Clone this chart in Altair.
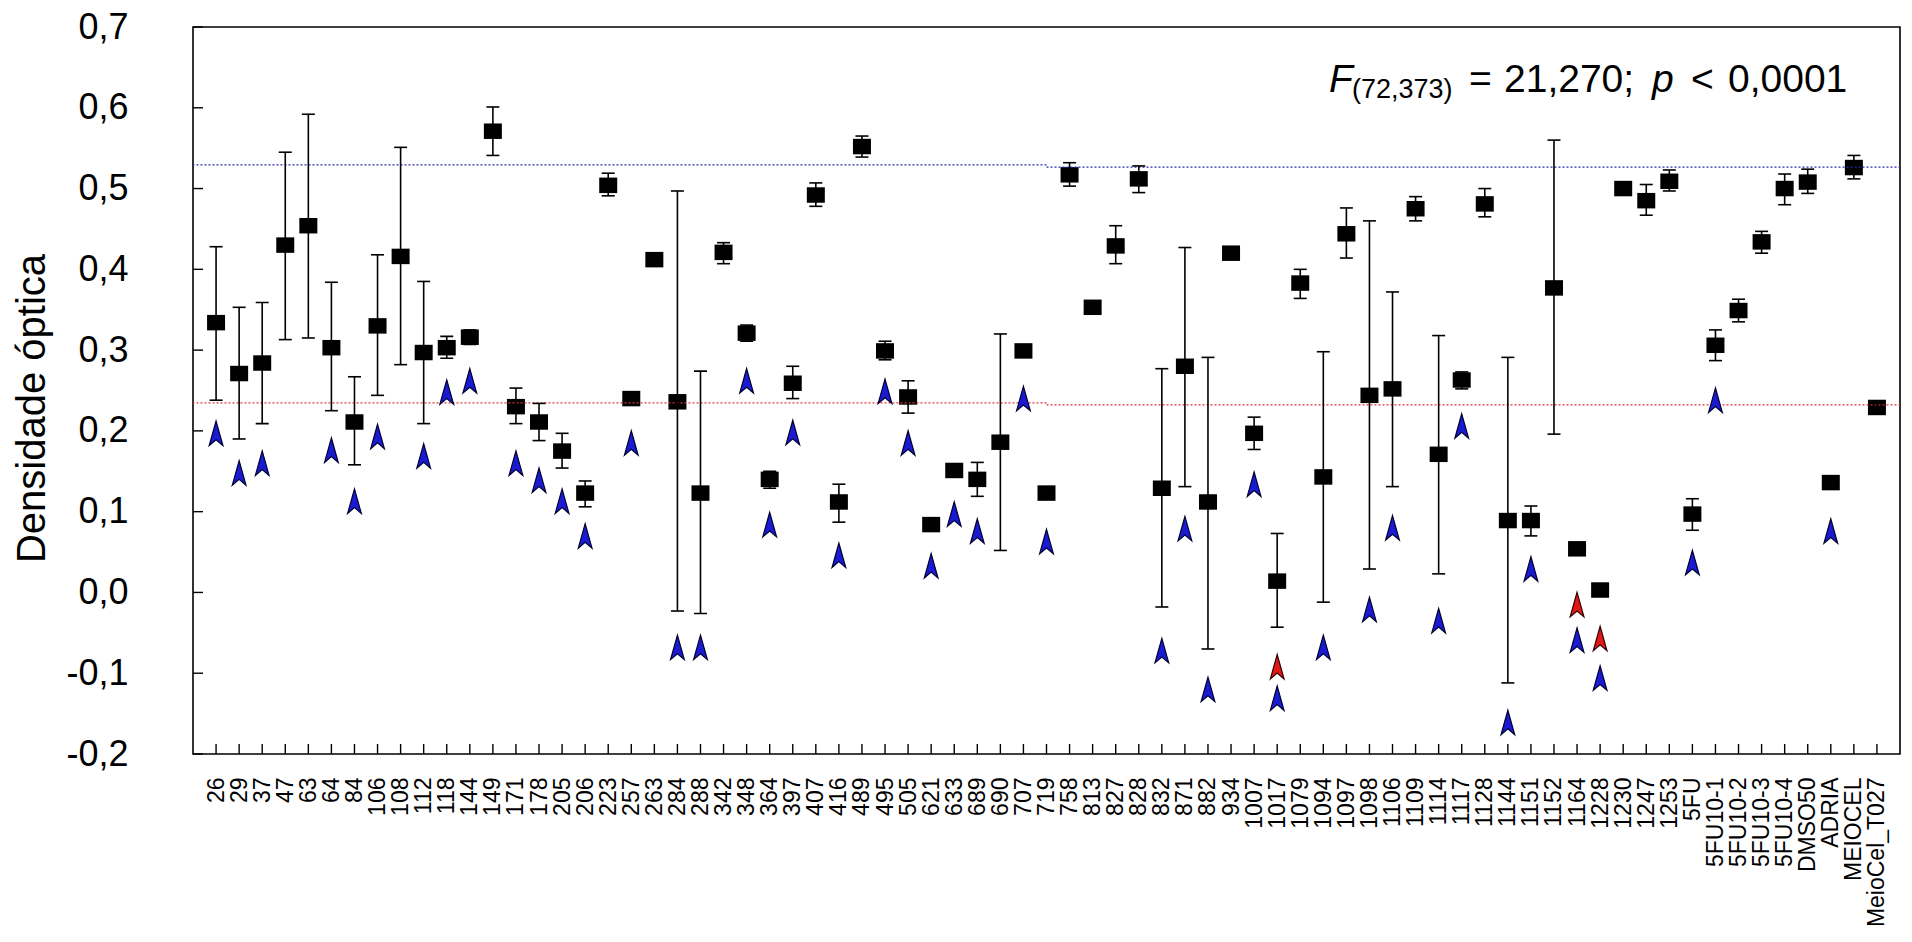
import altair as alt
import pandas as pd

# Samples along the x axis
categories = [
    "26", "29", "37", "47", "63", "64", "84", "106", "108", "112", "118", "144",
    "149", "171", "178", "205", "206", "223", "257", "263", "284", "288", "342",
    "348", "364", "397", "407", "416", "489", "495", "505", "621", "633", "689",
    "690", "707", "719", "758", "813", "827", "828", "832", "871", "882", "934",
    "1007", "1017", "1079", "1094", "1097", "1098", "1106", "1109", "1114",
    "1117", "1128", "1144", "1151", "1152", "1164", "1228", "1230", "1247",
    "1253", "5FU", "5FU10-1", "5FU10-2", "5FU10-3", "5FU10-4", "DMSO50",
    "ADRIA", "MEIOCEL", "MeioCel_T027",
]

# Mean optical density per sample
means = [
    0.334, 0.271, 0.284, 0.430, 0.454, 0.303, 0.211, 0.330, 0.416, 0.297, 0.303, 0.316,
    0.571, 0.230, 0.211, 0.175, 0.123, 0.504, 0.240, 0.412, 0.236, 0.123, 0.421,
    0.321, 0.140, 0.259, 0.492, 0.112, 0.552, 0.299, 0.242, 0.084, 0.151, 0.140,
    0.186, 0.299, 0.123, 0.517, 0.353, 0.429, 0.512, 0.129, 0.280, 0.112, 0.420,
    0.197, 0.014, 0.383, 0.143, 0.444, 0.244, 0.252, 0.475, 0.171,
    0.263, 0.481, 0.089, 0.089, 0.377, 0.054, 0.003, 0.500, 0.485,
    0.509, 0.097, 0.306, 0.349, 0.434, 0.500, 0.508,
    0.136, 0.526, 0.229,
]

# Lower and upper ends of the error bars (None: no bar)
err_low = [
    0.238, 0.190, 0.209, 0.313, 0.315, 0.225, 0.158, 0.244, 0.282, 0.209, 0.290, 0.307,
    0.541, 0.209, 0.188, 0.154, 0.106, 0.491, None, 0.407, -0.023, -0.026, 0.407,
    0.311, 0.129, 0.240, 0.478, 0.087, 0.539, 0.288, 0.222, None, None, 0.119,
    0.052, None, 0.118, 0.503, None, 0.407, 0.495, -0.018, 0.131, -0.070, None,
    0.177, -0.043, 0.364, -0.012, 0.414, 0.029, 0.131, 0.460, 0.023,
    0.252, 0.465, -0.112, 0.070, 0.196, 0.049, None, 0.495, 0.467,
    0.497, 0.077, 0.287, 0.335, 0.420, 0.480, 0.494,
    None, 0.512, 0.224,
]
err_high = [
    0.428, 0.353, 0.359, 0.545, 0.592, 0.384, 0.267, 0.418, 0.551, 0.385, 0.317, 0.325,
    0.601, 0.253, 0.234, 0.197, 0.138, 0.519, None, 0.417, 0.497, 0.274, 0.433,
    0.331, 0.150, 0.280, 0.507, 0.134, 0.565, 0.311, 0.262, None, None, 0.161,
    0.320, None, 0.128, 0.532, None, 0.454, 0.528, 0.277, 0.427, 0.291, None,
    0.217, 0.073, 0.400, 0.298, 0.476, 0.460, 0.372, 0.490, 0.318,
    0.273, 0.500, 0.291, 0.107, 0.560, 0.059, None, 0.505, 0.505,
    0.523, 0.116, 0.325, 0.363, 0.447, 0.518, 0.524,
    None, 0.541, 0.234,
]

# Blue and red arrow markers (None: no marker)
blue_marks = [
    0.197, 0.148, 0.160, None, None, 0.176, 0.113, 0.193, None, 0.169, 0.248, 0.262,
    None, 0.160, 0.139, 0.113, 0.070, None, 0.185, None, -0.068, -0.068, None,
    0.262, 0.084, 0.198, None, 0.046, None, 0.249, 0.185, 0.033, 0.097, 0.076,
    None, 0.240, 0.063, None, None, None, None, -0.072, 0.079, -0.120, None,
    0.134, -0.131, None, -0.068, None, -0.021, 0.080, None, -0.035,
    0.206, None, -0.161, 0.029, None, -0.059, -0.106, None, None,
    None, 0.037, 0.238, None, None, None, None,
    0.076, None, None,
]
red_marks = {"1017": -0.092, "1164": -0.015, "1228": -0.057}

# Horizontal reference levels (left part up to 719, right part from 719)
ref_blue = [0.5294, 0.5265]
ref_red = [0.2348, 0.2322]
ref_split = "719"

y_ticks = [-0.2, -0.1, 0.0, 0.1, 0.2, 0.3, 0.4, 0.5, 0.6, 0.7]

W, H = 1707, 727
FONT = "Liberation Sans"

df = pd.DataFrame({"amostra": categories, "media": means, "inf": err_low, "sup": err_high})
bars = df.dropna(subset=["inf", "sup"])
blue_df = pd.DataFrame({"amostra": categories, "nivel": blue_marks}).dropna()
red_df = pd.DataFrame({"amostra": list(red_marks.keys()), "nivel": list(red_marks.values())})
ref_df = pd.DataFrame({
    "amostra": [ref_split] * 4,
    "nivel": [ref_blue[0], ref_blue[1], ref_red[0], ref_red[1]],
    "lado": ["esq", "dir", "esq", "dir"],
    "cor": ["azul", "azul", "verm", "verm"],
})
ticks_df = pd.DataFrame({"valor": y_ticks})

x_scale = alt.Scale(type="point", domain=categories, padding=1.05)
y_scale = alt.Scale(domain=[-0.2, 0.7], nice=False, zero=False)

x_axis = alt.Axis(
    title=None, labelAngle=270, labelFontSize=23, labelPadding=23,
    ticks=False, domain=False, grid=False, labelColor="black",
    labelFont=FONT, labelOverlap=False,
)
y_axis = alt.Axis(
    values=y_ticks,
    labelExpr="replace(replace(format(datum.value, '.1f'), '.', ','), '\u2212', '-')",
    labelFontSize=36, labelPadding=65, labelColor="black", labelFont=FONT,
    ticks=False, domain=False, grid=False,
    title="Densidade óptica", titleFontSize=40, titleFontWeight="normal",
    titleFont=FONT, titleColor="black", titleAngle=270, titleX=-161, titleY=381,
    titleAlign="center", titleBaseline="middle",
)


def xenc():
    return alt.X("amostra:N", scale=x_scale)


base = alt.Chart(df)

squares = base.mark_point(
    shape="M-1,-0.86H1V0.86H-1Z", size=324, filled=True, color="black", opacity=1
).encode(
    x=alt.X("amostra:N", scale=x_scale, axis=x_axis),
    y=alt.Y("media:Q", scale=y_scale, axis=y_axis),
)

err_rule = alt.Chart(bars).mark_rule(color="black", strokeWidth=1.6).encode(
    x=xenc(), y=alt.Y("inf:Q", scale=y_scale), y2="sup:Q"
)
cap_low = alt.Chart(bars).mark_tick(
    color="black", thickness=1.6, size=13, orient="horizontal", opacity=1
).encode(x=xenc(), y=alt.Y("inf:Q", scale=y_scale))
cap_high = alt.Chart(bars).mark_tick(
    color="black", thickness=1.6, size=13, orient="horizontal", opacity=1
).encode(x=xenc(), y=alt.Y("sup:Q", scale=y_scale))

arrow_shape = "M0,-1L0.56,1L0,0.52L-0.56,1Z"
blue_arrows = alt.Chart(blue_df).mark_point(
    shape=arrow_shape, size=600, filled=True, fill="#1a1ad2",
    stroke="#000030", strokeWidth=1.2, opacity=1,
).encode(x=xenc(), y=alt.Y("nivel:Q", scale=y_scale))
red_arrows = alt.Chart(red_df).mark_point(
    shape=arrow_shape, size=600, filled=True, fill="#e01818",
    stroke="#300000", strokeWidth=1.2, opacity=1,
).encode(x=xenc(), y=alt.Y("nivel:Q", scale=y_scale))

color_scale = alt.Scale(domain=["azul", "verm"], range=["#2a2ab4", "#e03040"])
ref_left = alt.Chart(ref_df).transform_filter("datum.lado == 'esq'").mark_rule(
    strokeWidth=1.3, strokeDash=[2, 2]
).encode(
    x=xenc(), x2=alt.value(0), y=alt.Y("nivel:Q", scale=y_scale),
    color=alt.Color("cor:N", scale=color_scale, legend=None),
)
ref_right = alt.Chart(ref_df).transform_filter("datum.lado == 'dir'").mark_rule(
    strokeWidth=1.3, strokeDash=[2, 2]
).encode(
    x=xenc(), x2=alt.value(W), y=alt.Y("nivel:Q", scale=y_scale),
    color=alt.Color("cor:N", scale=color_scale, legend=None),
)

# Inward-pointing tick marks on both axes
y_tick_marks = alt.Chart(ticks_df).mark_rule(color="black", strokeWidth=1.4).encode(
    y=alt.Y("valor:Q", scale=y_scale), x=alt.value(0), x2=alt.value(10)
)
x_tick_marks = base.mark_rule(color="black", strokeWidth=1.4).encode(
    x=xenc(), y=alt.value(H), y2=alt.value(H - 10)
)

# Statistics annotation: F(72,373) = 21,270; p < 0,0001
ann = alt.Chart(pd.DataFrame({"k": [0]}))
ann_y = 65


def ann_text(txt, x, size=39, italic=False, dy=0):
    return ann.mark_text(
        text=txt, fontSize=size, fontStyle="italic" if italic else "normal",
        align="left", baseline="alphabetic", font=FONT, color="black",
    ).encode(x=alt.value(x), y=alt.value(ann_y + dy))


annotation = [
    ann_text("F", 1136, italic=True),
    ann_text("(72,373)", 1159, size=27, dy=6),
    ann_text("=", 1276),
    ann_text("21,270;", 1311),
    ann_text("p", 1459, italic=True),
    ann_text("<", 1498),
    ann_text("0,0001", 1535),
]

chart = alt.layer(
    squares, ref_left, ref_right, err_rule, cap_low, cap_high,
    blue_arrows, red_arrows, y_tick_marks, x_tick_marks, *annotation,
).properties(
    width=W, height=H,
    padding={"left": 193, "top": 27, "right": 12, "bottom": 188},
    autosize=alt.AutoSizeParams(type="none"),
    background="white",
).configure(
    font=FONT, view=alt.ViewConfig(stroke="black", strokeWidth=1.6)
)

chart.save("out.html", embed_options={"renderer": "svg", "actions": False})
